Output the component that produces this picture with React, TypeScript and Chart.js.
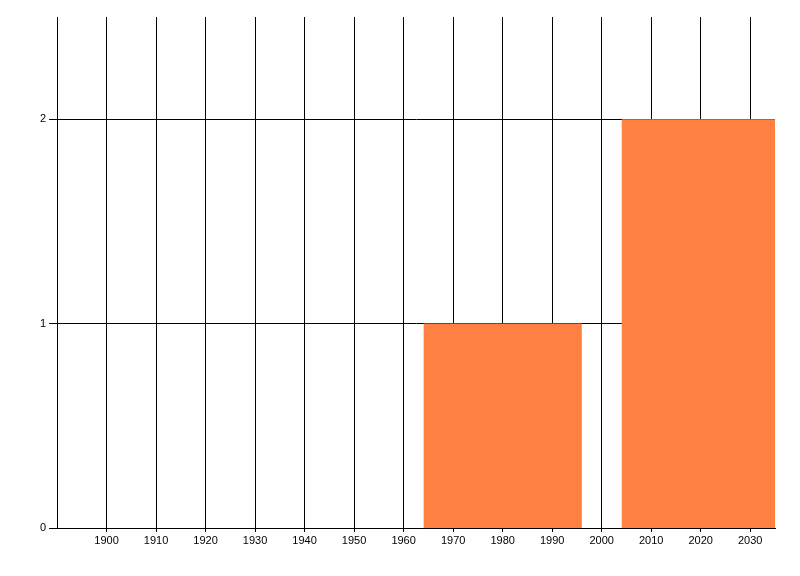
import React, { useEffect, useRef } from "react";
import { Chart, registerables } from "chart.js";

Chart.register(...registerables);

// Histogram bins (centre year) and counts
const binCenters = [1980, 2020];
const counts = [1, 2];

// Axis tick labels
const xTickValues = [1900, 1910, 1920, 1930, 1940, 1950, 1960, 1970, 1980, 1990, 2000, 2010, 2020, 2030];
const yTickValues = [0, 1, 2];

const X_MIN = 1890;
const X_MAX = 2035;
const Y_MAX = 2.5;
const BIN_WIDTH = 40;
const BAR_FRACTION = 0.8;

export default function App() {
  const canvasRef = useRef<HTMLCanvasElement | null>(null);

  useEffect(() => {
    const canvas = canvasRef.current;
    if (!canvas) return;
    const half = (BIN_WIDTH * BAR_FRACTION) / 2;
    const font = { family: "'Liberation Sans', Arial, sans-serif", size: 11 };
    const chart = new Chart(canvas, {
      type: "line",
      data: {
        datasets: binCenters.map((c, i) => ({
          data: [
            { x: c - half, y: counts[i] },
            { x: c + half, y: counts[i] },
          ],
          fill: "origin",
          backgroundColor: "#FF8040",
          borderColor: "rgba(0,0,0,0)",
          borderWidth: 0,
          pointRadius: 0,
          tension: 0,
        })),
      },
      options: {
        responsive: false,
        animation: false,
        events: [],
        layout: { padding: { top: 17, right: 25, left: 0, bottom: 0 } },
        plugins: { legend: { display: false }, tooltip: { enabled: false } },
        scales: {
          x: {
            type: "linear",
            min: X_MIN,
            max: X_MAX,
            afterBuildTicks: (s: any) => {
              s.ticks = xTickValues.map((v) => ({ value: v }));
            },
            afterFit: (s: any) => {
              s.height = 48;
            },
            ticks: {
              color: "#000",
              font,
              padding: 2,
              maxRotation: 0,
              autoSkip: false,
              callback: (v: any) => String(v),
            },
            grid: { color: "#000", lineWidth: 1, drawTicks: true, tickLength: 4 },
            border: { color: "#000", width: 1 },
          },
          y: {
            type: "linear",
            min: 0,
            max: Y_MAX,
            afterBuildTicks: (s: any) => {
              s.ticks = yTickValues.map((v) => ({ value: v }));
            },
            afterFit: (s: any) => {
              s.width = 57;
            },
            ticks: { color: "#000", font, padding: 3, callback: (v: any) => String(v) },
            grid: { color: "#000", lineWidth: 1, drawTicks: true, tickLength: 8 },
            border: { color: "#000", width: 1 },
          },
        },
      },
    });
    return () => chart.destroy();
  }, []);

  return (
    <div style={{ position: "absolute", left: 0, top: 0, width: 800, height: 576, background: "#fff" }}>
      <canvas ref={canvasRef} width={800} height={576} style={{ display: "block" }} />
    </div>
  );
}
